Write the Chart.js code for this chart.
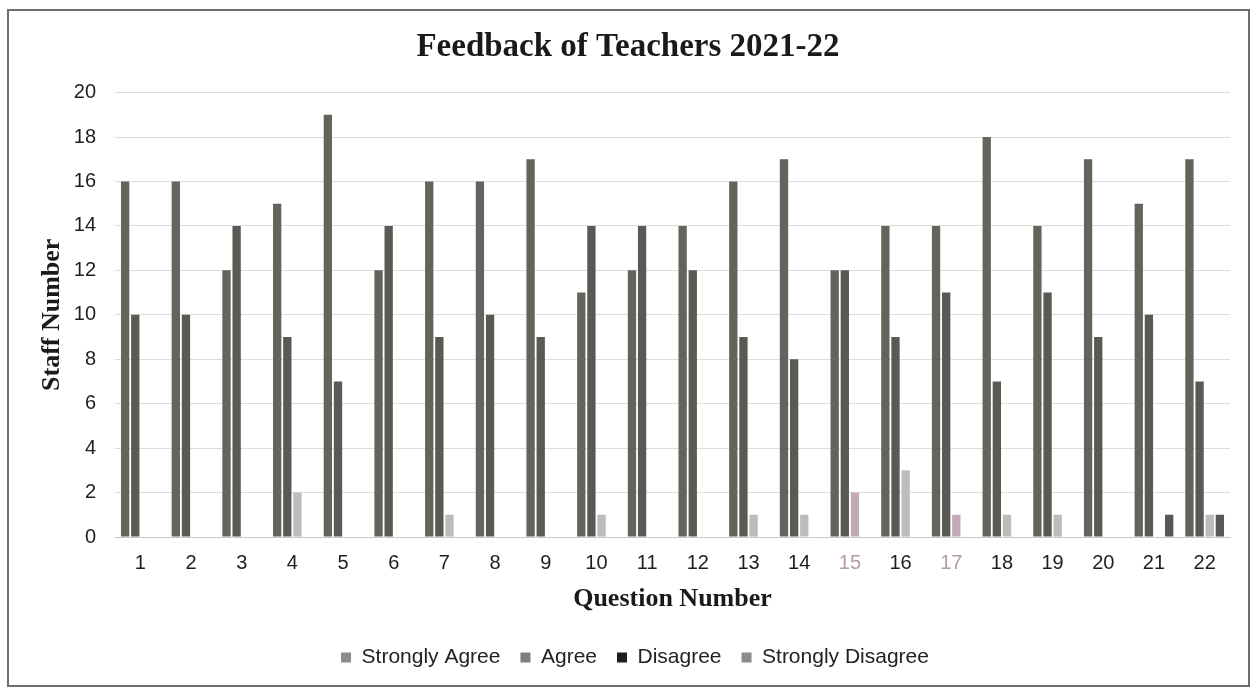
<!DOCTYPE html>
<html>
<head>
<meta charset="utf-8">
<script src="https://cdn.jsdelivr.net/npm/chart.js@4/dist/chart.umd.min.js"></script>
<style>
html,body{margin:0;padding:0;background:#fff;}
#wrap{position:absolute;left:0;top:0;width:1254px;height:688px;}
</style>
</head>
<body>
<div id="wrap"><canvas id="c" width="1254" height="688"></canvas></div>
<script>
const questions = ['1','2','3','4','5','6','7','8','9','10','11','12','13','14','15','16','17','18','19','20','21','22'];
const stronglyAgree    = [16,16,12,15,19,12,16,16,17,11,12,14,16,17,12,14,14,18,14,17,15,17];
const agree            = [10,10,14, 9, 7,14, 9,10, 9,14,14,12, 9, 8,12, 9,11, 7,11, 9,10, 7];
const disagree         = [ 0, 0, 0, 2, 0, 0, 1, 0, 0, 1, 0, 0, 1, 1, 2, 3, 1, 1, 1, 0, 0, 1];
const stronglyDisagree = [ 0, 0, 0, 0, 0, 0, 0, 0, 0, 0, 0, 0, 0, 0, 0, 0, 0, 0, 0, 0, 1, 1];
const seriesNames = ['Strongly Agree','Agree','Disagree','Strongly Disagree'];
const yTicks = [0,2,4,6,8,10,12,14,16,18,20];

const pinkIdx = [14,16];
const disagreeColors = questions.map((q,i)=> pinkIdx.includes(i) ? '#c3a9b3' : '#bcbcbc');
const legendColors = ['#8c8c8a','#7f7f7c','#1e1e1e','#8c8c8a'];

const framePlugin = {
  id:'frame',
  afterLayout(chart){
    if (chart.legend){ chart.legend.left += 15; chart.legend.right += 15; }
    if (chart.titleBlock){ chart.titleBlock.left += 8; chart.titleBlock.right += 8; }
  },
  beforeDraw(chart){
    const ctx = chart.ctx;
    ctx.save();
    ctx.fillStyle='#fff';
    ctx.fillRect(0,0,chart.width,chart.height);
    ctx.strokeStyle='#6e6e6e';
    ctx.lineWidth=2;
    ctx.strokeRect(8,10,1241,676);
    ctx.restore();
  }
};

new Chart(document.getElementById('c'), {
  type:'bar',
  data:{
    labels: questions,
    datasets:[
      {label:seriesNames[0], data:stronglyAgree, backgroundColor:'#64635c'},
      {label:seriesNames[1], data:agree, backgroundColor:'#5a5954'},
      {label:seriesNames[2], data:disagree, backgroundColor:disagreeColors},
      {label:seriesNames[3], data:stronglyDisagree, backgroundColor:'#55575a'}
    ]
  },
  options:{
    responsive:false,
    animation:false,
    layout:{padding:{left:10,right:24,top:10,bottom:10}},
    datasets:{bar:{categoryPercentage:0.8, barPercentage:0.82}},
    plugins:{
      title:{display:true, text:'Feedback of Teachers 2021-22', color:'#1a1a1a',
        font:{family:'"Liberation Serif","Times New Roman",serif', size:33, weight:'bold'},
        padding:{top:18,bottom:25}},
      legend:{position:'bottom',
        labels:{boxWidth:10, boxHeight:10, padding:20, color:'#222',
          font:{family:'"Liberation Sans",Arial,sans-serif', size:21},
          generateLabels(chart){
            return chart.data.datasets.map((ds,i)=>({
              text: ds.label, fillStyle: legendColors[i], strokeStyle: legendColors[i],
              lineWidth:0, hidden:false, datasetIndex:i, fontColor:'#222'
            }));
          }
        }},
      tooltip:{enabled:false}
    },
    scales:{
      x:{
        grid:{display:false, drawTicks:false},
        border:{display:true, color:'#c8c8c8', width:1},
        ticks:{padding:14, color:(c)=> pinkIdx.includes(c.index) ? '#b39aa4' : '#1e1e1e',
          font:{family:'"Liberation Sans",Arial,sans-serif', size:20}},
        title:{display:true, text:'Question Number', color:'#1a1a1a',
          font:{family:'"Liberation Serif","Times New Roman",serif', size:26, weight:'bold'},
          padding:{top:0,bottom:12}},
        afterFit(s){ s.height = 90; }
      },
      y:{
        min:0, max:20,
        afterBuildTicks(s){ s.ticks = yTicks.map(v=>({value:v})); },
        grid:{color:'#dcdcdc', lineWidth:1, drawTicks:false},
        border:{display:false},
        ticks:{padding:19, color:'#1e1e1e',
          font:{family:'"Liberation Sans",Arial,sans-serif', size:20}},
        title:{display:true, text:'Staff Number', color:'#1a1a1a',
          font:{family:'"Liberation Serif","Times New Roman",serif', size:26, weight:'bold'},
          padding:{top:27,bottom:0}},
        afterFit(s){ s.width = 105; }
      }
    }
  },
  plugins:[framePlugin]
});
</script>
</body>
</html>
